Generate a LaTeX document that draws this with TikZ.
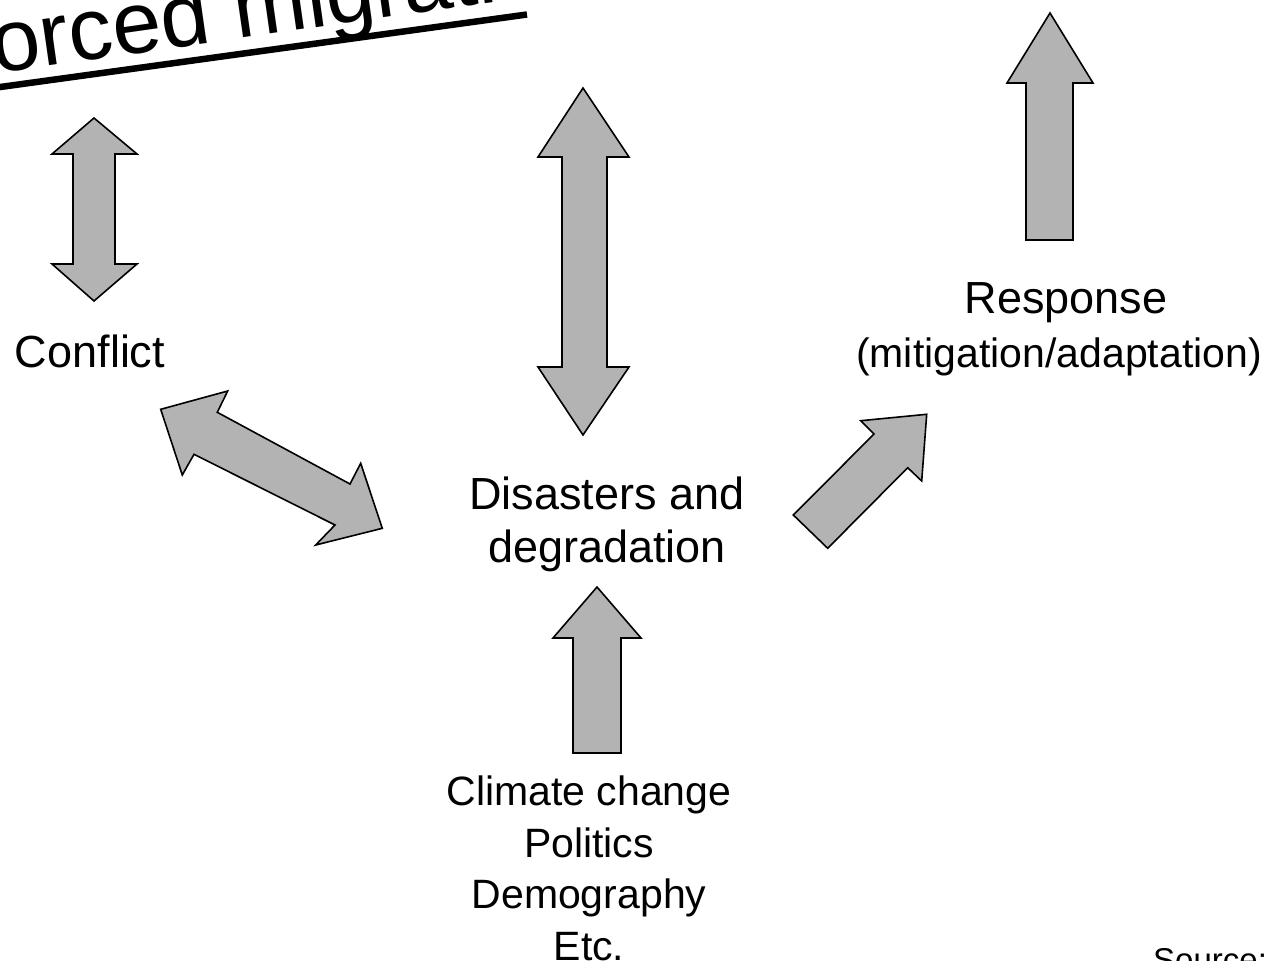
\documentclass[tikz,border=0pt]{standalone}
\usepackage{fontspec}
\setmainfont{Liberation Sans}
\begin{document}
\begin{tikzpicture}[x=1pt,y=-1pt,
  blockarrow/.style={fill=arrowgray,draw=black,line width=1.6pt,line join=miter},
  bigtext/.style={inner sep=0pt,anchor=base,font=\fontsize{45}{54}\selectfont},
  midtext/.style={inner sep=0pt,anchor=base,font=\fontsize{41}{52}\selectfont},
  titletext/.style={inner sep=0pt,anchor=base west,rotate=8.1,font=\fontsize{88}{100}\selectfont}]
\definecolor{arrowgray}{RGB}{179,179,179}
\useasboundingbox (0,0) rectangle (1277,961);
\clip (0,0) rectangle (1277,961);
% title
\node[titletext] (title) at (-58,81) {Forced migration};
\coordinate (ulA) at (-20,89.8);
\coordinate (ulB) at (527,14.5);
\draw[line width=6.5pt] (ulA) -- (ulB);
% labels
\node[bigtext] (conflict) at (90,367) {Conflict};
\node[bigtext] (dis1) at (607,509) {Disasters and};
\node[bigtext] (dis2) at (607,562) {degradation};
\node[bigtext] (resp) at (1066,313) {Response};
\node[midtext] (mit) at (1059,367) {(mitigation/adaptation)};
\node[midtext] (cc) at (589,805) {Climate change};
\node[midtext] (pol) at (589,857) {Politics};
\node[midtext] (dem) at (589,908) {Demography};
\node[midtext] (etc) at (589,960) {Etc.};
\node[inner sep=0pt,anchor=base west,font=\fontsize{33}{40}\selectfont] (src) at (1153,971) {Source:};
% arrows
% response up arrow
\draw[blockarrow] (1050,13) -- (1093,83) -- (1073,83) -- (1073,240) -- (1026,240) -- (1026,83) -- (1007,83) -- cycle;
% middle double arrow
\draw[blockarrow] (583,88) -- (629,157) -- (607,157) -- (607,367) -- (629,367) -- (583,435) -- (538,367) -- (562,367) -- (562,157) -- (538,157) -- cycle;
% left double arrow
\draw[blockarrow] (94,118) -- (137,154) -- (115,154) -- (115,264) -- (137,264) -- (94,301) -- (52,264) -- (73,264) -- (73,154) -- (52,154) -- cycle;
% bottom up arrow
\draw[blockarrow] (597,587) -- (641,638) -- (621,638) -- (621,753) -- (573,753) -- (573,638) -- (553,638) -- cycle;
% diagonal double arrow
\draw[blockarrow] (160.7,409.3) -- (227.7,391) -- (217.3,412.3) -- (350,484) -- (360.7,463.3) -- (382.3,528.3) -- (315.7,545) -- (335,525) -- (194,454.3) -- (182.3,475) -- cycle;
% diagonal up-right arrow
\draw[blockarrow] (926.7,414.3) -- (921.7,481) -- (907.7,467.7) -- (827.7,548.3) -- (793.3,515) -- (874,434) -- (860.7,420.7) -- cycle;
\end{tikzpicture}
\end{document}
